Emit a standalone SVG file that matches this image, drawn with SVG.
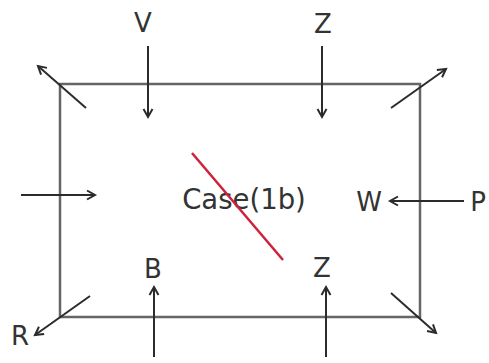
<svg xmlns="http://www.w3.org/2000/svg" width="489" height="363" viewBox="0 0 489 363">
<style>
.t{font-family:"DejaVu Sans",Verdana,sans-serif;font-size:26px;fill:#333;text-anchor:middle}
.a{stroke:#2b2b2b;stroke-width:2;fill:none;marker-end:url(#ah)}
.box{stroke:#666;stroke-width:2.5;fill:none}
</style>
<defs>
<marker id="ah" markerWidth="12" markerHeight="12" refX="9" refY="5" orient="auto" markerUnits="userSpaceOnUse" viewBox="0 0 12 10">
<path d="M1,0.5 L9,5 L1,9.5" fill="none" stroke="#2b2b2b" stroke-width="2"/>
</marker>
</defs>
<g id="box"><rect class="box" x="60" y="84" width="360" height="233"/></g>
<g id="case"><text class="t" x="244" y="209" style="font-size:27.5px">Case(1b)</text><line x1="192" y1="153" x2="283" y2="260" stroke="#d0203a" stroke-width="2.5"/></g>
<g id="V"><text class="t" x="143" y="32">V</text></g>
<g id="Ztop"><text class="t" x="323" y="33">Z</text></g>
<g id="W"><text class="t" x="369" y="211">W</text></g>
<g id="P"><text class="t" x="478" y="211">P</text></g>
<g id="B"><text class="t" x="153" y="278">B</text></g>
<g id="Zbot"><text class="t" x="322" y="277">Z</text></g>
<g id="R"><text class="t" x="20" y="345">R</text></g>
<g id="connectors">
<line class="a" x1="148" y1="46" x2="148" y2="117"/>
<line class="a" x1="322" y1="46" x2="322" y2="117"/>
<line class="a" x1="86" y1="108" x2="38" y2="66"/>
<line class="a" x1="391" y1="108" x2="446" y2="69"/>
<line class="a" x1="21" y1="195" x2="95" y2="195"/>
<line class="a" x1="464" y1="201" x2="390" y2="201"/>
<line class="a" x1="154" y1="357" x2="154" y2="287"/>
<line class="a" x1="326" y1="357" x2="326" y2="287"/>
<line class="a" x1="90" y1="296" x2="35" y2="335"/>
<line class="a" x1="391" y1="293" x2="436" y2="333"/>
</g>
</svg>
